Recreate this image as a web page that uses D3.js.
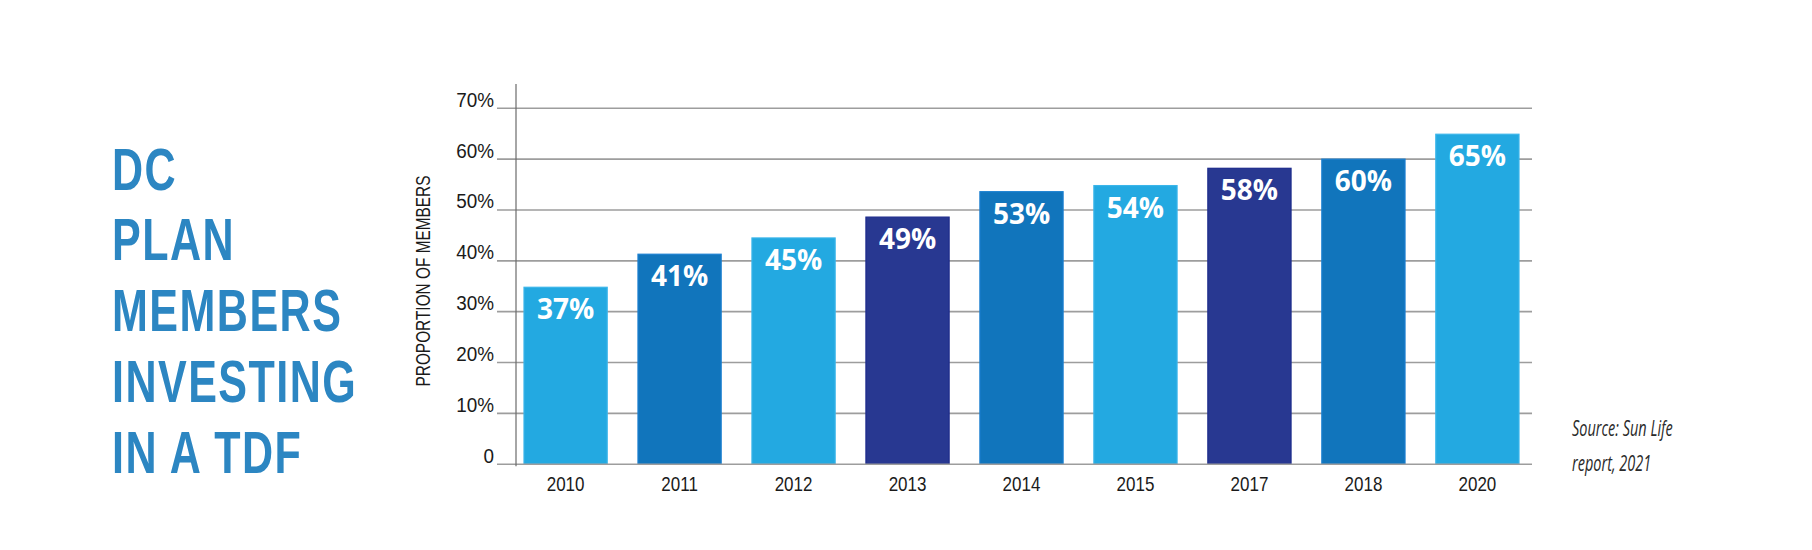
<!DOCTYPE html>
<html>
<head>
<meta charset="utf-8">
<script src="https://cdn.jsdelivr.net/npm/d3@7"></script>
<style>
  html, body { margin: 0; padding: 0; background: #ffffff; }
  svg { display: block; }
</style>
</head>
<body>
<svg id="chart" width="1812" height="550"></svg>
<script>
// ---- Data ----
const years = ["2010", "2011", "2012", "2013", "2014", "2015", "2017", "2018", "2020"];
const barValues = [34.8, 41.3, 44.5, 48.6, 53.6, 54.8, 58.2, 60.0, 64.9];
const barLabels = ["37%", "41%", "45%", "49%", "53%", "54%", "58%", "60%", "65%"];
const barShade = ["light", "mid", "light", "dark", "mid", "light", "dark", "mid", "light"];
const yTicks = [0, 10, 20, 30, 40, 50, 60, 70];
const titleLines = ["DC", "PLAN", "MEMBERS", "INVESTING", "IN A TDF"];
const axisTitle = "PROPORTION OF MEMBERS";
const sourceLines = ["Source: Sun Life", "report, 2021"];

// ---- Styles ----
const fills = { light: "#23a9e1", mid: "#1175bc", dark: "#283891" };
const strokes = { light: "#3ab5ea", mid: "#1a7fd0", dark: "#1d2b8c" };
const sans = "'Liberation Sans', Arial, sans-serif";

const svg = d3.select("#chart");

const x = d3.scaleBand().domain(years).range([524, 1519]).paddingInner(0.27).paddingOuter(0);
const y = d3.scaleLinear().domain([0, 70]).range([464.2, 108.3]);

// helper: horizontally condensed text
function narrowText(parent, tx, ty, sx, str) {
  return parent.append("text")
    .attr("transform", `translate(${tx},${ty}) scale(${sx},1)`)
    .text(str);
}

// Title
const title = svg.append("g")
  .attr("fill", "#2c86c2")
  .style("font-family", sans)
  .style("font-weight", "bold")
  .style("font-size", "59px");
titleLines.forEach((t, i) => {
  narrowText(title, 112, 189.5 + i * 70.8, 0.73, t).style("letter-spacing", "2px");
});

// Gridlines
svg.append("g").selectAll("line")
  .data(yTicks.filter(d => d > 0))
  .join("line")
  .attr("x1", 497).attr("x2", 1532)
  .attr("y1", d => y(d)).attr("y2", d => y(d))
  .attr("stroke", "#9d9d9d")
  .attr("stroke-width", 1.6);

// Bars
svg.append("g").selectAll("rect")
  .data(years)
  .join("rect")
  .attr("x", d => x(d))
  .attr("width", x.bandwidth())
  .attr("y", (d, i) => y(barValues[i]))
  .attr("height", (d, i) => y(0) - y(barValues[i]))
  .attr("fill", (d, i) => fills[barShade[i]])
  .attr("stroke", (d, i) => strokes[barShade[i]])
  .attr("stroke-width", 1.2);

// Baseline
svg.append("line")
  .attr("x1", 497).attr("x2", 1532)
  .attr("y1", y(0)).attr("y2", y(0))
  .attr("stroke", "#9d9d9d").attr("stroke-width", 1.6);

// Y axis vertical line
svg.append("line")
  .attr("x1", 516).attr("x2", 516)
  .attr("y1", 84).attr("y2", y(0) + 2)
  .attr("stroke", "#6b6b6b").attr("stroke-width", 1.2);

// Y tick labels
const yl = svg.append("g")
  .attr("fill", "#1a1a1a")
  .attr("text-anchor", "end")
  .style("font-family", sans)
  .style("font-size", "21px");
yTicks.forEach(d => {
  narrowText(yl, 494, y(d) - 1.5, 0.9, d === 0 ? "0" : d + "%");
});

// Axis title
svg.append("text")
  .attr("transform", "translate(430,281) rotate(-90)")
  .attr("text-anchor", "middle")
  .attr("fill", "#1a1a1a")
  .attr("textLength", 211)
  .attr("lengthAdjust", "spacingAndGlyphs")
  .style("font-family", sans)
  .style("font-size", "20px")
  .text(axisTitle);

// X labels
const xl = svg.append("g")
  .attr("fill", "#1a1a1a")
  .attr("text-anchor", "middle")
  .style("font-family", sans)
  .style("font-size", "20px");
years.forEach(d => {
  narrowText(xl, x(d) + x.bandwidth() / 2, 491, 0.85, d);
});

// Bar value labels
svg.append("g").selectAll("text")
  .data(years)
  .join("text")
  .attr("x", d => x(d) + x.bandwidth() / 2)
  .attr("y", (d, i) => y(barValues[i]) + 32)
  .attr("text-anchor", "middle")
  .attr("fill", "#ffffff")
  .style("font-family", "'Open Sans', 'Noto Sans', sans-serif")
  .style("font-weight", "bold")
  .style("font-size", "28px")
  .text((d, i) => barLabels[i]);

// Source
const src = svg.append("g")
  .attr("fill", "#2a2a2a")
  .style("font-family", "'Open Sans', 'Noto Sans', sans-serif")
  .style("font-style", "italic")
  .style("font-size", "21px");
sourceLines.forEach((t, i) => {
  narrowText(src, 1572, 436 + i * 35, 0.69, t);
});
</script>
</body>
</html>
